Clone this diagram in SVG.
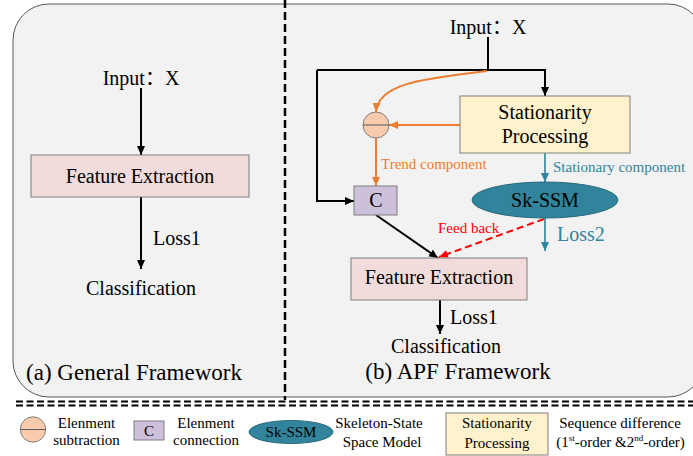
<svg xmlns="http://www.w3.org/2000/svg" width="693" height="456" viewBox="0 0 693 456">
<style>
text{font-family:'Liberation Serif','Times New Roman',serif;fill:#000}
.cjk{font-family:'Noto Sans CJK SC',sans-serif}
.t20{font-size:20px}
.t23{font-size:23px}
.t15{font-size:15px}
.or{fill:#ed7d31}
.te{fill:#31849b}
.rd{fill:#ff0000}
.box{stroke:#7f7f7f;stroke-width:1}
.fe{fill:#f2dcdb}
.sp{fill:#fff2cc}
.cc{fill:#ccc0da}
.ci{fill:#f8cbad;stroke:#7f7f7f;stroke-width:1}
.el{fill:#31849b;stroke:#2a6a7c;stroke-width:1}
.k{stroke:#000;stroke-width:2;fill:none}
.o{stroke:#ed7d31;stroke-width:2;fill:none}
.c{stroke:#31849b;stroke-width:1.6;fill:none}
.r{stroke:#ff0000;stroke-width:2;fill:none;stroke-dasharray:7 4}
</style>
<defs>
<marker id="ak" markerUnits="userSpaceOnUse" markerWidth="10" markerHeight="10" refX="9" refY="5" orient="auto"><path d="M0,1 L9,5 L0,9 z" fill="#000"/></marker>
<marker id="ao" markerUnits="userSpaceOnUse" markerWidth="10" markerHeight="10" refX="9" refY="5" orient="auto"><path d="M0,1 L9,5 L0,9 z" fill="#ed7d31"/></marker>
<marker id="ac" markerUnits="userSpaceOnUse" markerWidth="10" markerHeight="10" refX="9" refY="5" orient="auto"><path d="M0,1 L9,5 L0,9 z" fill="#31849b"/></marker>
<marker id="ar" markerUnits="userSpaceOnUse" markerWidth="10" markerHeight="10" refX="9" refY="5" orient="auto"><path d="M0,1 L9,5 L0,9 z" fill="#ff0000"/></marker>
</defs>
<rect x="0" y="0" width="693" height="456" fill="#ffffff"/>
<rect id="panel" x="13" y="4" width="691" height="393" rx="36" ry="36" fill="#f2f2f2" stroke="#595959" stroke-width="1"/>
<g id="dividers">
<line x1="285" y1="0" x2="285" y2="400" stroke="#000" stroke-width="2.5" stroke-dasharray="8 4"/>
<line x1="16" y1="401.5" x2="693" y2="401.5" stroke="#000" stroke-width="2" stroke-dasharray="7 3.5"/>
<line x1="16" y1="405.5" x2="693" y2="405.5" stroke="#000" stroke-width="2" stroke-dasharray="7 3.5"/>
</g>
<g id="connectors">
<line class="k" x1="141" y1="88" x2="141" y2="155" marker-end="url(#ak)"/>
<line class="k" x1="141" y1="197" x2="141" y2="269" marker-end="url(#ak)"/>
<line class="k" x1="488" y1="37" x2="488" y2="70"/>
<polyline class="k" points="317,70 545,70 545,96" marker-end="url(#ak)"/>
<polyline class="k" points="317,70 317,201 354,201" marker-end="url(#ak)"/>
<path class="o" d="M487,71 C430,78 378,82 376,112" marker-end="url(#ao)"/>
<line class="o" x1="460" y1="125" x2="389" y2="125" marker-end="url(#ao)"/>
<line class="o" x1="376" y1="138" x2="376" y2="186" marker-end="url(#ao)"/>
<line class="c" x1="545" y1="153" x2="545" y2="182" marker-end="url(#ac)"/>
<line class="c" x1="545" y1="218" x2="545" y2="251" marker-end="url(#ac)"/>
<line class="k" x1="376" y1="215" x2="438" y2="258" marker-end="url(#ak)"/>
<line class="r" x1="544" y1="219" x2="439" y2="257" marker-end="url(#ar)"/>
<line class="k" x1="440" y1="300" x2="440" y2="334" marker-end="url(#ak)"/>
</g>
<g id="a-input"><text class="t20" x="141" y="85" text-anchor="middle">Input<tspan class="cjk">：</tspan>X</text></g>
<g id="a-feature"><rect class="box fe" x="31" y="155" width="218" height="42"/><text class="t20" x="140" y="183" text-anchor="middle">Feature Extraction</text></g>
<g id="a-loss1"><text class="t20" x="153" y="245">Loss1</text></g>
<g id="a-class"><text class="t20" x="141" y="295" text-anchor="middle">Classification</text></g>
<g id="a-title"><text class="t23" x="134" y="380" text-anchor="middle">(a) General Framework</text></g>
<g id="b-input"><text class="t20" x="488" y="34" text-anchor="middle">Input<tspan class="cjk">：</tspan>X</text></g>
<g id="b-stat"><rect class="box sp" x="460" y="96" width="170" height="57"/><text class="t20" x="545" y="119" text-anchor="middle">Stationarity</text><text class="t20" x="545" y="142.5" text-anchor="middle">Processing</text></g>
<g id="b-sub"><circle class="ci" cx="376" cy="125" r="13"/><line x1="363" y1="125" x2="389" y2="125" stroke="#595959" stroke-width="1"/></g>
<g id="b-trend"><text class="t15 or" x="381" y="169">Trend component</text></g>
<g id="b-stcomp"><text class="t15 te" x="553" y="172">Stationary component</text></g>
<g id="b-c"><rect class="box cc" x="354" y="186" width="43" height="29"/><text class="t20" x="376" y="207" text-anchor="middle">C</text></g>
<g id="b-sssm"><ellipse class="el" cx="545" cy="200" rx="73" ry="18"/><text class="t20" x="545" y="206.5" text-anchor="middle">Sk-SSM</text></g>
<g id="b-loss2"><text class="t20 te" x="557" y="241">Loss2</text></g>
<g id="b-feed"><text class="t15 rd" x="438" y="233">Feed back</text></g>
<g id="b-feature"><rect class="box fe" x="351" y="258" width="176" height="42"/><text class="t20" x="439" y="284" text-anchor="middle">Feature Extraction</text></g>
<g id="b-loss1"><text class="t20" x="450" y="323.5">Loss1</text></g>
<g id="b-class"><text class="t20" x="446" y="353" text-anchor="middle">Classification</text></g>
<g id="b-title"><text class="t23" x="458" y="379" text-anchor="middle">(b) APF Framework</text></g>
<g id="legend-sub"><circle class="ci" cx="33" cy="429.5" r="12.7"/><line x1="20.3" y1="429.5" x2="45.7" y2="429.5" stroke="#595959" stroke-width="1"/><text class="t15" x="86.5" y="427.7" text-anchor="middle">Elenment</text><text class="t15" x="86.5" y="445" text-anchor="middle">subtraction</text></g>
<g id="legend-c"><rect class="box cc" x="134" y="421" width="30" height="19"/><text class="t15" x="149" y="435.7" text-anchor="middle">C</text><text class="t15" x="206" y="427.7" text-anchor="middle">Elenment</text><text class="t15" x="206" y="445" text-anchor="middle">connection</text></g>
<g id="legend-sssm"><ellipse class="el" cx="291" cy="432" rx="42" ry="11.5"/><text class="t15" x="291" y="436.5" text-anchor="middle">Sk-SSM</text><text class="t15" x="379" y="428" text-anchor="middle">Skeleton-State</text><text class="t15" x="382" y="446.5" text-anchor="middle">Space Model</text></g>
<g id="legend-stat"><rect class="box sp" x="446" y="413" width="102" height="42"/><text class="t15" x="497" y="428" text-anchor="middle">Stationarity</text><text class="t15" x="497" y="447.5" text-anchor="middle">Processing</text><text class="t15" x="620" y="428" text-anchor="middle">Sequence difference</text><text class="t15" x="620.5" y="447" text-anchor="middle">(1<tspan font-size="9" dy="-6">st</tspan><tspan dy="6">-order &amp;2</tspan><tspan font-size="9" dy="-6">nd</tspan><tspan dy="6">-order)</tspan></text></g>
</svg>
